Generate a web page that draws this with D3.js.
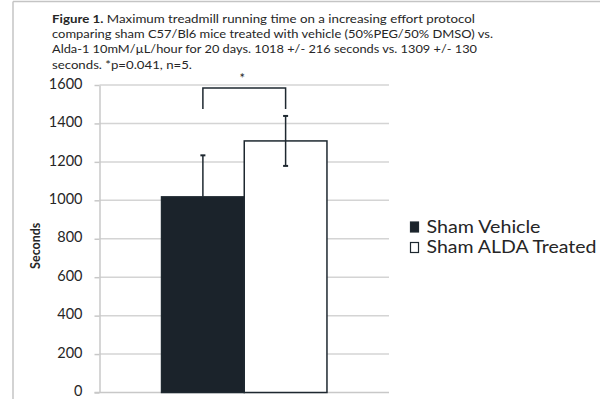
<!DOCTYPE html>
<html>
<head>
<meta charset="utf-8">
<script src="https://cdn.jsdelivr.net/npm/d3@7"></script>
<style>
  html, body { margin: 0; padding: 0; background: #fff; }
  svg { display: block; }
  text { font-family: Lato, "Open Sans", "Liberation Sans", sans-serif; fill: #262626; }
</style>
</head>
<body>
<svg id="chart" width="600" height="399"></svg>
<script>
// Treadmill running time, sham vehicle vs. sham ALDA treated
const categories = ["Sham"];
const seriesNames = ["Sham Vehicle", "Sham ALDA Treated"];
const seriesMeans = [1018, 1309];
const seriesErrors = [216, 130];
const seriesFills = ["#1b232b", "#ffffff"];
const yTicks = [0, 200, 400, 600, 800, 1000, 1200, 1400, 1600];
const bracketValues = [1584, 1475];   // bracket top, bracket leg ends
const starValue = 1645;
const captionBold = "Figure 1.";
const captionLines = [
  " Maximum treadmill running time on a increasing effort protocol",
  "comparing sham C57/Bl6 mice treated with vehicle (50%PEG/50% DMSO) vs.",
  "Alda-1 10mM/\u00B5L/hour for 20 days.  1018 +/- 216 seconds vs. 1309 +/- 130",
  "seconds. *p=0.041, n=5."
];
const captionEnds = [475, 493, 477, 192];

const svg = d3.select("#chart");
const ink = "#1e2830";

// Frame lines along the top and left edge
svg.append("line").attr("x1", 13).attr("x2", 600).attr("y1", 1.5).attr("y2", 1.5)
  .attr("stroke", "#c4c4c4").attr("stroke-width", 1.5);
svg.append("line").attr("x1", 13).attr("x2", 13).attr("y1", 1.5).attr("y2", 399)
  .attr("stroke", "#c4c4c4").attr("stroke-width", 1.5);

// Caption
const capX = 52, capY0 = 23, capDy = 15.2;
captionLines.forEach((line, i) => {
  const t = svg.append("text")
    .attr("x", capX).attr("y", capY0 + i * capDy)
    .attr("font-size", 12)
    .attr("textLength", captionEnds[i] - capX)
    .attr("lengthAdjust", "spacingAndGlyphs");
  if (i === 0) {
    t.append("tspan").attr("font-weight", "bold").text(captionBold);
  }
  t.append("tspan").text(line);
});

// Scales
const plotLeft = 99.5, plotRight = 389, plotTop = 85, plotBottom = 392.5;
const y = d3.scaleLinear().domain([0, 1600]).range([plotBottom, plotTop]);
const x0 = d3.scaleBand().domain(categories).range([plotLeft, plotRight])
  .paddingInner(0).paddingOuter(0.375);
const x1 = d3.scaleBand().domain(seriesNames).range([0, x0.bandwidth()]).padding(0);

// Gridlines
svg.append("g").selectAll("line").data(yTicks.slice(1)).join("line")
  .attr("x1", plotLeft).attr("x2", plotRight)
  .attr("y1", d => y(d)).attr("y2", d => y(d))
  .attr("stroke", "#d4d4d4").attr("stroke-width", 1.5);

// Y axis
const yAxis = svg.append("g")
  .attr("transform", `translate(${plotLeft},0)`)
  .call(d3.axisLeft(y).tickValues(yTicks).tickFormat(d3.format("d"))
    .tickSize(5).tickPadding(12).tickSizeOuter(0));
yAxis.select(".domain").attr("stroke", "#c8c8c8").attr("stroke-width", 1.5);
yAxis.selectAll(".tick line").attr("stroke", "#c8c8c8").attr("stroke-width", 1.5);
yAxis.selectAll(".tick text")
  .attr("font-size", 14.5).attr("dy", "0.22em")
  .style("font-family", "Lato, 'Open Sans', sans-serif").attr("fill", "#262626");

// Bottom axis line
svg.append("line").attr("x1", plotLeft - 5).attr("x2", plotRight)
  .attr("y1", y(0)).attr("y2", y(0))
  .attr("stroke", "#c8c8c8").attr("stroke-width", 1.5);

// Y axis title
svg.append("text")
  .attr("transform", `translate(40,${(plotTop + plotBottom) / 2 + 7}) rotate(-90)`)
  .attr("text-anchor", "middle").attr("font-size", 12.5).attr("font-weight", "bold")
  .text("Seconds");

// Bars
const barData = seriesNames.map((s, i) => ({ name: s, mean: seriesMeans[i], err: seriesErrors[i], fill: seriesFills[i] }));
const gBars = svg.append("g").attr("transform", `translate(${x0(categories[0])},0)`);
gBars.selectAll("rect").data(barData).join("rect")
  .attr("x", d => x1(d.name))
  .attr("y", d => y(d.mean))
  .attr("width", x1.bandwidth())
  .attr("height", d => y(0) - y(d.mean))
  .attr("fill", d => d.fill)
  .attr("stroke", ink).attr("stroke-width", 1.5);

// Error bars: the lower half of a whisker disappears inside a dark bar
const cx = d => x1(d.name) + x1.bandwidth() / 2;
const darkFill = d => d3.hsl(d.fill).l < 0.5;
const lowEnd = d => darkFill(d) ? d.mean : d.mean - d.err;
gBars.selectAll("line.err").data(barData).join("line").attr("class", "err")
  .attr("x1", cx).attr("x2", cx)
  .attr("y1", d => y(d.mean + d.err)).attr("y2", d => y(lowEnd(d)))
  .attr("stroke", ink).attr("stroke-width", 1.5);
gBars.selectAll("line.cap-top").data(barData).join("line").attr("class", "cap-top")
  .attr("x1", d => cx(d) - 2.5).attr("x2", d => cx(d) + 2.5)
  .attr("y1", d => y(d.mean + d.err)).attr("y2", d => y(d.mean + d.err))
  .attr("stroke", ink).attr("stroke-width", 2);
gBars.selectAll("line.cap-bottom").data(barData.filter(d => !darkFill(d))).join("line")
  .attr("class", "cap-bottom")
  .attr("x1", d => cx(d) - 2.5).attr("x2", d => cx(d) + 2.5)
  .attr("y1", d => y(d.mean - d.err)).attr("y2", d => y(d.mean - d.err))
  .attr("stroke", ink).attr("stroke-width", 2);

// Significance bracket
const bx1 = cx(barData[0]), bx2 = cx(barData[1]);
gBars.append("path")
  .attr("d", `M${bx1},${y(bracketValues[1])}V${y(bracketValues[0])}H${bx2}V${y(bracketValues[1])}`)
  .attr("fill", "none").attr("stroke", ink).attr("stroke-width", 1.5);
gBars.append("text")
  .attr("x", (bx1 + bx2) / 2 - 2).attr("y", y(starValue) + 7)
  .attr("text-anchor", "middle").attr("font-size", 13).text("*");

// Legend
const legend = svg.append("g").attr("transform", "translate(410,222)");
barData.forEach((d, i) => {
  const g = legend.append("g").attr("transform", `translate(0,${i * 20.5})`);
  g.append("rect").attr("x", 0.5).attr("y", 0).attr("width", 8).attr("height", 10)
    .attr("fill", d.fill).attr("stroke", ink).attr("stroke-width", 1.2);
  g.append("text").attr("x", 16.5).attr("y", 5).attr("dy", "0.36em")
    .attr("font-size", 16.5)
    .attr("textLength", i === 0 ? 114 : 170).attr("lengthAdjust", "spacingAndGlyphs")
    .text(d.name);
});
</script>
</body>
</html>
